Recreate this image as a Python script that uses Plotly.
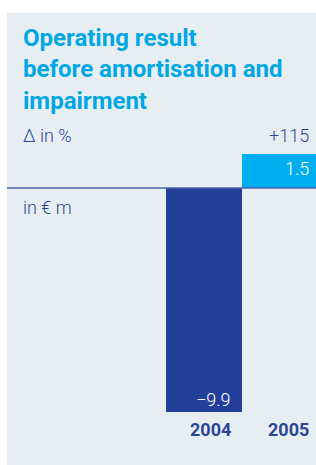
import plotly.graph_objects as go

years = ["2004", "2005"]
values = [-9.9, 1.5]
value_labels = ["\u22129.9", "1.5"]
bar_colors = ["#22409a", "#00aeef"]
delta_label = "+115"
title_lines = ["Operating result", "before amortisation and", "impairment"]

PANEL = "#e7eef2"
TEXT = "#2d4795"
TITLE = "#00a7e3"
FONT = "Roboto"

W, H = 316, 465
L, T = 7, 13
PW, PH = W - L, H - T


def px(x):
    return (x - L) / PW


def py(y):
    return (H - y) / PH


xpos = [0, 1]
fig = go.Figure()
fig.add_trace(go.Bar(
    x=xpos, y=values, width=[1.0, 0.99],
    marker=dict(color=bar_colors, line=dict(width=0)),
    hoverinfo="skip", cliponaxis=True,
))

ann = []
for i, line in enumerate(title_lines):
    ann.append(dict(x=px(21), y=py([38, 69, 101][i]), xref="paper", yref="paper",
                    text=f"<b>{line}</b>", showarrow=False, xanchor="left", yanchor="middle",
                    font=dict(family=FONT, size=24, color=TITLE)))
ann.append(dict(x=px(21), y=py(135), xref="paper", yref="paper", text="\u0394 in %",
                showarrow=False, xanchor="left", yanchor="middle",
                font=dict(family=FONT, size=18, color=TEXT, weight=300)))
ann.append(dict(x=px(311), y=py(135), xref="paper", yref="paper", text=delta_label,
                showarrow=False, xanchor="right", yanchor="middle",
                font=dict(family=FONT, size=18, color=TEXT, weight=300)))
ann.append(dict(x=px(21), y=py(207), xref="paper", yref="paper", text="in \u20ac m",
                showarrow=False, xanchor="left", yanchor="middle",
                font=dict(family=FONT, size=18, color=TEXT, weight=300)))
label_y = [399, 168]
label_right = [233, 311]
year_right = [233, 311]
for i in range(2):
    ann.append(dict(x=px(label_right[i]), y=py(label_y[i]), xref="paper", yref="paper",
                    text=value_labels[i], showarrow=False, xanchor="right", yanchor="middle",
                    font=dict(family=FONT, size=18, color="white", weight=300)))
    ann.append(dict(x=px(year_right[i]), y=py(429), xref="paper", yref="paper",
                    text=f"<b>{years[i]}</b>", showarrow=False, xanchor="right", yanchor="middle",
                    font=dict(family=FONT, size=18, color=TEXT)))

fig.update_layout(
    width=W, height=H,
    margin=dict(l=L, r=0, t=T, b=0, pad=0),
    paper_bgcolor="white", plot_bgcolor=PANEL,
    showlegend=False,
    xaxis=dict(range=[-2.586, 1.48], visible=False, fixedrange=True),
    yaxis=dict(range=[-12.26, 7.74], visible=False, fixedrange=True),
    annotations=ann,
    shapes=[dict(type="rect", xref="paper", yref="paper", x0=0, x1=1.05, y0=0, y1=1,
                 fillcolor=PANEL, line=dict(width=0), layer="below"),
            dict(type="line", xref="paper", yref="y", x0=0, x1=1, y0=0, y1=0,
                 line=dict(color="#4a62a8", width=1.5), layer="above")],
    bargap=0,
)
fig.write_html("out.html", config={"displayModeBar": False},
               post_script="document.body.style.margin='0';document.body.style.overflow='hidden';document.documentElement.style.overflow='hidden';")
